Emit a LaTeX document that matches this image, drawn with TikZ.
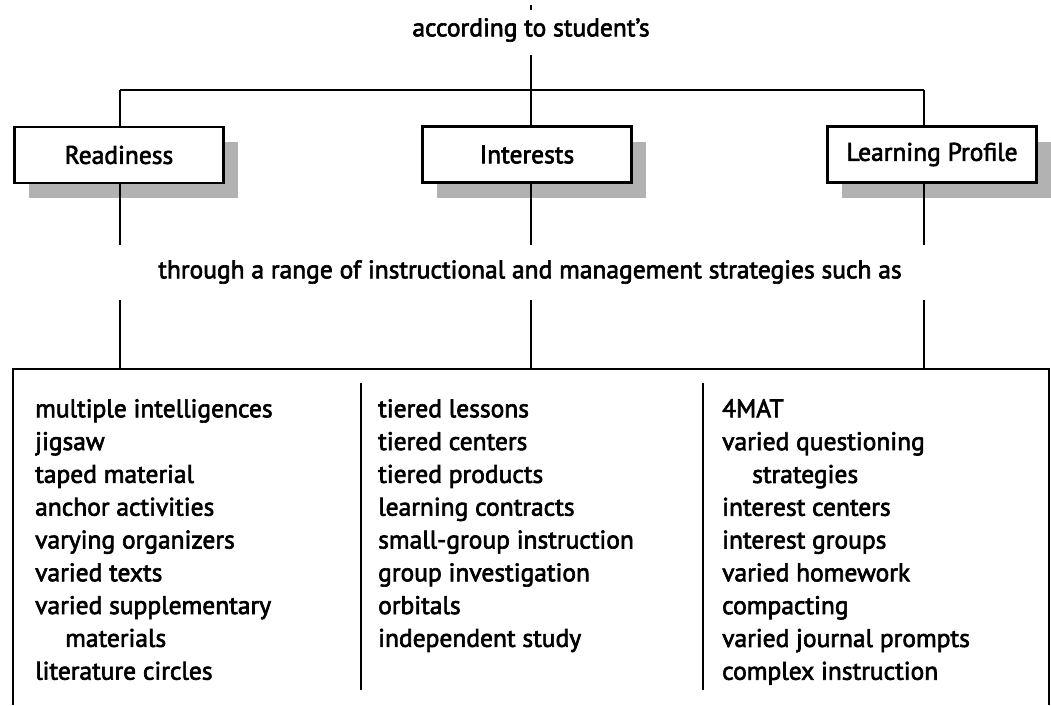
\documentclass[tikz,border=0pt]{standalone}
\usepackage{fontspec}
\setmainfont{PT Sans}[FakeBold=2.5]
\usetikzlibrary{shadows}
\begin{document}
\begin{tikzpicture}[x=1pt,y=-1pt,
  every node/.style={font=\fontsize{25.5}{32.8}\selectfont},
  wire/.style={line width=2.6pt},
  catbox/.style={draw,line width=2.6pt,fill=white,minimum width=209pt,minimum height=56pt,inner sep=0pt,
    drop shadow={shadow xshift=14pt,shadow yshift=-15pt,fill=gray!60,opacity=1}},
  listcol/.style={anchor=north west,align=left,inner sep=0pt}
]
\useasboundingbox (0,0) rectangle (1051,705);

% heading and the tail of the line above it
\coordinate (topend) at (531,5);
\coordinate (topdot) at (531,10);
\draw[wire] (topend) -- (topdot);
\node (head) at (531,30) {according to student's};
\coordinate (hub) at (531,90);
\coordinate (hubtop) at (531,55);

% the three categories
\node[catbox] (ready) at (119,155) {Readiness};
\node[catbox] (inter) at (527,154.5) {Interests};
\node[catbox] (prof)  at (932,154.5) {Learning Profile};

\coordinate (hl) at (120,90);
\coordinate (hr) at (924,90);
\draw[wire] (hubtop) -- (hub);
\draw[wire] (hl) -- (hr);
\draw[wire] (hl) -- (ready.north -| hl);
\draw[wire] (hub) -- (inter.north -| hub);
\draw[wire] (hr) -- (prof.north -| hr);

% middle text
\node (through) at (530,272) {through a range of instructional and management strategies such as};

\coordinate (ra) at (120,245);
\coordinate (ia) at (531,245);
\coordinate (pa) at (924,245);
\draw[wire] (ready.south -| ra) -- (ra);
\draw[wire] (inter.south -| ia) -- (ia);
\draw[wire] (prof.south -| pa) -- (pa);

\coordinate (rb) at (120,300);
\coordinate (ib) at (531,300);
\coordinate (pb) at (924,300);
\coordinate (rc) at (120,369);
\coordinate (ic) at (531,369);
\coordinate (pc) at (924,369);
\draw[wire] (rb) -- (rc);
\draw[wire] (ib) -- (ic);
\draw[wire] (pb) -- (pc);

% strategies panel, open at the bottom
\coordinate (pbl) at (13,705);
\coordinate (pbr) at (1049,705);
\draw[line width=2.2pt] (pbl) |- (1049,369) -- (pbr);
\coordinate (d1a) at (361,383);
\coordinate (d1b) at (361,690);
\coordinate (d2a) at (703,383);
\coordinate (d2b) at (703,690);
\draw[wire] (d1a) -- (d1b);
\draw[wire] (d2a) -- (d2b);

\node[listcol] (colA) at (35,399) {multiple intelligences\\jigsaw\\taped material\\anchor activities\\varying organizers\\varied texts\\varied supplementary\\\hspace*{30pt}materials\\literature circles};
\node[listcol] (colB) at (378,399) {tiered lessons\\tiered centers\\tiered products\\learning contracts\\small-group instruction\\group investigation\\orbitals\\independent study};
\node[listcol] (colC) at (722,399) {4MAT\\varied questioning\\\hspace*{30pt}strategies\\interest centers\\interest groups\\varied homework\\compacting\\varied journal prompts\\complex instruction};
\end{tikzpicture}
\end{document}
